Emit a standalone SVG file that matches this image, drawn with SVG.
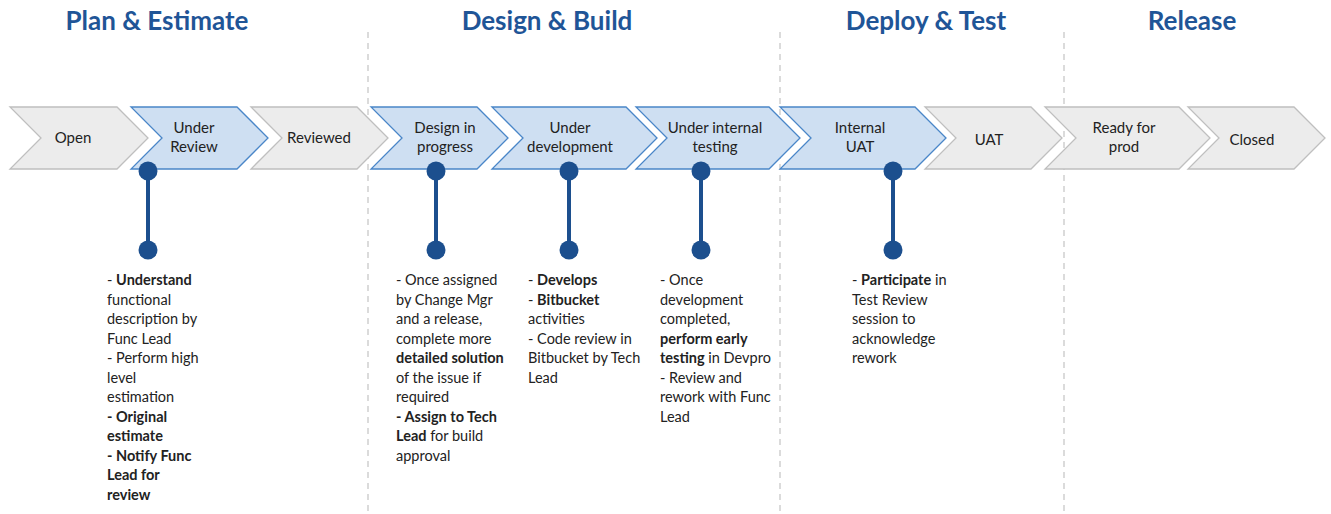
<svg xmlns="http://www.w3.org/2000/svg" width="1331" height="514" viewBox="0 0 1331 514">
<style>
.hdr{font-family:Lato,"Open Sans","Liberation Sans",sans-serif;font-weight:bold;font-size:26px;fill:#1f5597;text-anchor:middle}
.g{fill:#ececec;stroke:#bfbfbf;stroke-width:1.3}
.b{fill:#cedff2;stroke:#4a86c8;stroke-width:1.3}
.lbl{font-family:Lato,"Open Sans","Liberation Sans",sans-serif;font-size:15px;fill:#222;text-anchor:middle}
.d{font-family:Lato,"Open Sans","Liberation Sans",sans-serif;font-size:14.5px;fill:#222}
.bd{font-weight:bold}
.sep{stroke:#c8c8c8;stroke-width:1.3;stroke-dasharray:6 5;fill:none}
.pin{stroke:#1c4f8e;stroke-width:4}
.dot{fill:#1c4f8e}
</style>
<rect width="1331" height="514" fill="#ffffff"/>
<g id="separators">
<line class="sep" x1="368" y1="32" x2="368" y2="514"/>
<line class="sep" x1="780" y1="32" x2="780" y2="514"/>
<line class="sep" x1="1064" y1="32" x2="1064" y2="514"/>
</g>
<g id="headers">
<text class="hdr" x="157" y="30">Plan &amp; Estimate</text>
<text class="hdr" x="547" y="30">Design &amp; Build</text>
<text class="hdr" x="926" y="30">Deploy &amp; Test</text>
<text class="hdr" x="1192" y="30">Release</text>
</g>
<g id="node-open"><path class="g" d="M10,107 H117 L148,138 L117,169 H10 L41,138 Z"/><text class="lbl" x="73" y="143">Open</text></g>
<g id="node-under-review"><path class="b" d="M131,107 H237 L268,138 L237,169 H131 L162,138 Z"/><text class="lbl" x="194" y="133">Under</text><text class="lbl" x="194" y="152">Review</text></g>
<g id="node-reviewed"><path class="g" d="M251,107 H357 L388,138 L357,169 H251 L282,138 Z"/><text class="lbl" x="319" y="143">Reviewed</text></g>
<g id="node-design-in-progress"><path class="b" d="M371,107 H477 L508,138 L477,169 H371 L402,138 Z"/><text class="lbl" x="445" y="133">Design in</text><text class="lbl" x="445" y="152">progress</text></g>
<g id="node-under-development"><path class="b" d="M492,107 H626 L657,138 L626,169 H492 L523,138 Z"/><text class="lbl" x="570" y="133">Under</text><text class="lbl" x="570" y="152">development</text></g>
<g id="node-under-internal-testing"><path class="b" d="M636,107 H769 L800,138 L769,169 H636 L667,138 Z"/><text class="lbl" x="715" y="133">Under internal</text><text class="lbl" x="715" y="152">testing</text></g>
<g id="node-internal-uat"><path class="b" d="M780,107 H915 L946,138 L915,169 H780 L811,138 Z"/><text class="lbl" x="860" y="133">Internal</text><text class="lbl" x="860" y="152">UAT</text></g>
<g id="node-uat"><path class="g" d="M925,107 H1031 L1062,138 L1031,169 H925 L956,138 Z"/><text class="lbl" x="989" y="145">UAT</text></g>
<g id="node-ready-for-prod"><path class="g" d="M1045,107 H1179 L1210,138 L1179,169 H1045 L1076,138 Z"/><text class="lbl" x="1124" y="133">Ready for</text><text class="lbl" x="1124" y="152">prod</text></g>
<g id="node-closed"><path class="g" d="M1188,107 H1294 L1325,138 L1294,169 H1188 L1219,138 Z"/><text class="lbl" x="1252" y="145">Closed</text></g>
<g id="connectors">
<line class="pin" x1="148" y1="171" x2="148" y2="250"/><circle class="dot" cx="148" cy="171" r="9.5"/><circle class="dot" cx="148" cy="250" r="9.5"/>
<line class="pin" x1="436" y1="171" x2="436" y2="250"/><circle class="dot" cx="436" cy="171" r="9.5"/><circle class="dot" cx="436" cy="250" r="9.5"/>
<line class="pin" x1="569" y1="171" x2="569" y2="250"/><circle class="dot" cx="569" cy="171" r="9.5"/><circle class="dot" cx="569" cy="250" r="9.5"/>
<line class="pin" x1="701" y1="171" x2="701" y2="250"/><circle class="dot" cx="701" cy="171" r="9.5"/><circle class="dot" cx="701" cy="250" r="9.5"/>
<line class="pin" x1="893" y1="171" x2="893" y2="250"/><circle class="dot" cx="893" cy="171" r="9.5"/><circle class="dot" cx="893" cy="250" r="9.5"/>
</g>
<g id="desc-under-review">
<text class="d" x="107" y="285">- <tspan class="bd">Understand</tspan></text>
<text class="d" x="107" y="304.5">functional</text>
<text class="d" x="107" y="324">description by</text>
<text class="d" x="107" y="343.5">Func Lead</text>
<text class="d" x="107" y="363">- Perform high</text>
<text class="d" x="107" y="382.5">level</text>
<text class="d" x="107" y="402">estimation</text>
<text class="d bd" x="107" y="421.5">- Original</text>
<text class="d bd" x="107" y="441">estimate</text>
<text class="d bd" x="107" y="460.5">- Notify Func</text>
<text class="d bd" x="107" y="480">Lead for</text>
<text class="d bd" x="107" y="499.5">review</text>
</g>
<g id="desc-design-in-progress">
<text class="d" x="396" y="285">- Once assigned</text>
<text class="d" x="396" y="304.5">by Change Mgr</text>
<text class="d" x="396" y="324">and a release,</text>
<text class="d" x="396" y="343.5">complete more</text>
<text class="d bd" x="396" y="363">detailed solution</text>
<text class="d" x="396" y="382.5">of the issue if</text>
<text class="d" x="396" y="402">required</text>
<text class="d bd" x="396" y="421.5">- Assign to Tech</text>
<text class="d" x="396" y="441"><tspan class="bd">Lead</tspan> for build</text>
<text class="d" x="396" y="460.5">approval</text>
</g>
<g id="desc-under-development">
<text class="d" x="528" y="285">- <tspan class="bd">Develops</tspan></text>
<text class="d" x="528" y="304.5">- <tspan class="bd">Bitbucket</tspan></text>
<text class="d" x="528" y="324">activities</text>
<text class="d" x="528" y="343.5">- Code review in</text>
<text class="d" x="528" y="363">Bitbucket by Tech</text>
<text class="d" x="528" y="382.5">Lead</text>
</g>
<g id="desc-under-internal-testing">
<text class="d" x="660" y="285">- Once</text>
<text class="d" x="660" y="304.5">development</text>
<text class="d" x="660" y="324">completed,</text>
<text class="d bd" x="660" y="343.5">perform early</text>
<text class="d" x="660" y="363"><tspan class="bd">testing</tspan> in Devpro</text>
<text class="d" x="660" y="382.5">- Review and</text>
<text class="d" x="660" y="402">rework with Func</text>
<text class="d" x="660" y="421.5">Lead</text>
</g>
<g id="desc-internal-uat">
<text class="d" x="852" y="285">- <tspan class="bd">Participate</tspan> in</text>
<text class="d" x="852" y="304.5">Test Review</text>
<text class="d" x="852" y="324">session to</text>
<text class="d" x="852" y="343.5">acknowledge</text>
<text class="d" x="852" y="363">rework</text>
</g>
</svg>
